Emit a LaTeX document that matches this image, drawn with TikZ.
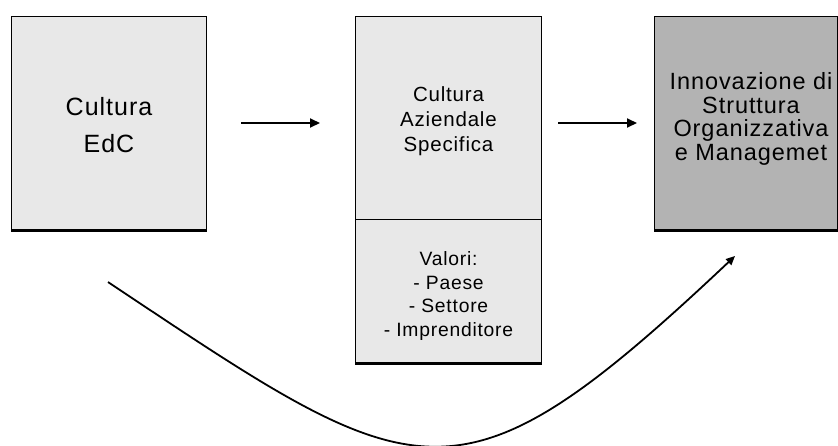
\documentclass[tikz,border=0pt]{standalone}
\usepackage{fontspec}
\setmainfont{Liberation Sans}[LetterSpace=4]
\usetikzlibrary{arrows.meta}
\definecolor{boxlight}{HTML}{E8E8E8}
\definecolor{boxdark}{HTML}{B3B3B3}
\begin{document}
\begin{tikzpicture}[x=1pt,y=-1pt,
  box/.style={draw=black, line width=1pt, rectangle, inner sep=0pt, anchor=north west},
  txt/.style={inner sep=0pt, align=center},
  arr/.style={line width=2pt, -{Triangle[length=10pt,width=9pt]}},
  curvearr/.style={line width=1.8pt, -{Triangle[length=9pt,width=8pt]}},
  baseline/.style={line width=2.5pt}]
\useasboundingbox (0,0) rectangle (838,445);
\node[box, fill=boxlight, minimum width=195pt, minimum height=213pt] (b1) at (11,16) {};
\node[box, fill=boxlight, minimum width=186pt, minimum height=203pt] (b2u) at (355,16) {};
\node[box, fill=boxlight, minimum width=186pt, minimum height=143pt] (b2l) at (355,219) {};
\node[box, fill=boxdark, minimum width=183pt, minimum height=213pt] (b3) at (654,16) {};
\node[txt, font=\fontsize{25}{37}\selectfont] (t1) at ([yshift=-2pt]b1.center) {Cultura\\EdC};
\node[txt, font=\fontsize{20.5}{25}\selectfont] (t2u) at ([yshift=-3pt]b2u.center) {Cultura\\Aziendale\\Specifica};
\node[txt, font=\fontsize{19.3}{23.7}\selectfont] (t2l) at ([yshift=-5pt]b2l.center) {Valori:\\- Paese\\- Settore\\- Imprenditore};
\node[txt, font=\fontsize{23.5}{23.5}\selectfont] (t3) at ([xshift=5pt,yshift=4pt]b3.center) {Innovazione di\\Struttura\\Organizzativa\\e Managemet};
\draw[baseline] ([yshift=-0.75pt]b1.south west) -- ([yshift=-0.75pt]b1.south east);
\draw[baseline] ([yshift=-0.75pt]b2l.south west) -- ([yshift=-0.75pt]b2l.south east);
\draw[baseline] ([yshift=-0.75pt]b3.south west) -- ([yshift=-0.75pt]b3.south east);
\draw[arr] ([xshift=34pt]b1.east) -- ([xshift=-35pt]b2u.west |- b1.east);
\draw[arr] ([xshift=16pt]b2u.east |- b3.west) -- ([xshift=-17pt]b3.west);
\coordinate (cs) at (108,282);
\coordinate (ce) at (735,256);
\draw[curvearr] (cs) .. controls (420,490) and (455,520) .. (ce);
\end{tikzpicture}
\end{document}
